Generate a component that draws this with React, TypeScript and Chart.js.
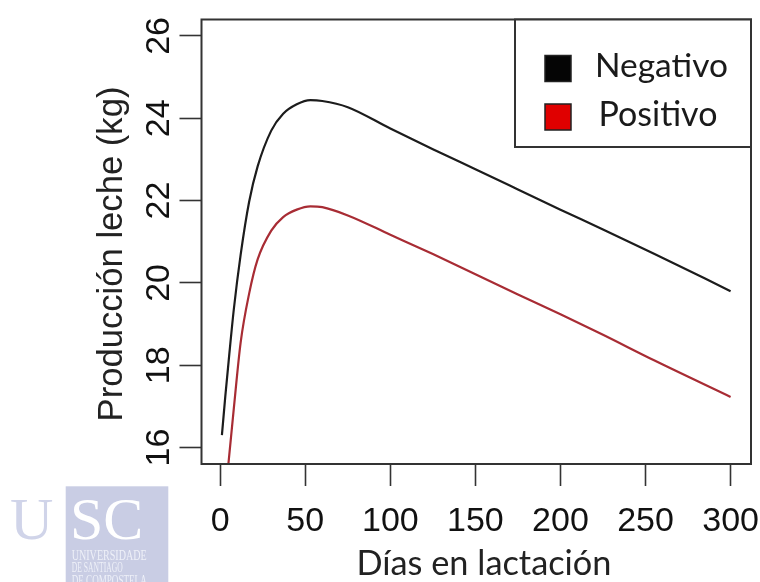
import React, { useEffect, useRef } from "react";
import { Chart, registerables } from "chart.js";

Chart.register(...registerables);

// ---- data ----
const days = [1, 3, 5, 8, 12, 17, 22, 30, 37, 45, 53, 60, 75, 100, 125, 150, 175, 200, 225, 255, 300];
const negativo = [16.3, 17.25, 18.12, 19.36, 20.68, 21.97, 22.83, 23.7, 24.11, 24.34, 24.44, 24.42, 24.27, 23.75, 23.25, 22.76, 22.27, 21.78, 21.3, 20.71, 19.8];
const positivo = [14.0, 14.85, 15.68, 16.95, 18.55, 19.74, 20.57, 21.27, 21.6, 21.78, 21.86, 21.84, 21.64, 21.17, 20.7, 20.21, 19.72, 19.24, 18.74, 18.12, 17.23];
const seriesLabels = ["Negativo", "Positivo"];
const seriesColors = ["#1c1c1c", "#a82c34"];
const legendSwatch = ["#050505", "#e00000"];
const xTickValues = [0, 50, 100, 150, 200, 250, 300];
const yTickValues = [16, 18, 20, 22, 24, 26];
const xTitle = "Días en lactación";
const yTitle = "Producción leche (kg)";
const logoBig = ["U", "SC"];
const logoSmall = ["UNIVERSIDADE", "DE SANTIAGO", "DE COMPOSTELA"];

function fitSize(ctx: CanvasRenderingContext2D, text: string, family: string, target: number) {
  ctx.font = `100px ${family}`;
  const w = ctx.measureText(text).width;
  return (100 * target) / w;
}

const decorPlugin = {
  id: "decor",
  afterDraw(chart: any) {
    const ctx: CanvasRenderingContext2D = chart.ctx;
    const { left, top, right, bottom } = chart.chartArea;
    const ys = chart.scales.y;
    ctx.save();

    // plot box
    ctx.strokeStyle = "#333";
    ctx.lineWidth = 2;
    ctx.strokeRect(left, top, right - left, bottom - top);

    // y tick labels (rotated, R style)
    ctx.fillStyle = "#111";
    ctx.font = "34px 'Liberation Sans', Arial, sans-serif";
    ctx.textAlign = "center";
    ctx.textBaseline = "alphabetic";
    ys.ticks.forEach((t: any) => {
      const py = ys.getPixelForValue(t.value);
      ctx.save();
      ctx.translate(168.5, py);
      ctx.rotate(-Math.PI / 2);
      ctx.fillText(String(t.value), 0, 0);
      ctx.restore();
    });

    // y title
    const yFam = "'Liberation Sans', Arial, sans-serif";
    const ySize = fitSize(ctx, yTitle, yFam, 335);
    ctx.font = `${ySize}px ${yFam}`;
    ctx.fillStyle = "#222";
    ctx.save();
    ctx.translate(122, 254);
    ctx.rotate(-Math.PI / 2);
    ctx.fillText(yTitle, 0, 0);
    ctx.restore();

    // x title
    const lato = "Lato, 'Open Sans', sans-serif";
    const xSize = fitSize(ctx, xTitle, lato, 255);
    ctx.font = `${xSize}px ${lato}`;
    ctx.fillStyle = "#222";
    ctx.textAlign = "center";
    ctx.fillText(xTitle, 484, 575);

    // legend
    const lx = 515, ly = top, lr = right, lb = 147;
    ctx.fillStyle = "#fff";
    ctx.fillRect(lx, ly, lr - lx, lb - ly);
    ctx.strokeStyle = "#333";
    ctx.lineWidth = 2;
    ctx.strokeRect(lx, ly, lr - lx, lb - ly);
    const rowsY = [68.5, 117];
    const textX = [595, 598.5];
    const textW = [133, 119];
    seriesLabels.forEach((lab, i) => {
      ctx.fillStyle = legendSwatch[i];
      ctx.fillRect(545, rowsY[i] - 13, 26, 26);
      ctx.strokeStyle = "#222";
      ctx.lineWidth = 1.5;
      ctx.strokeRect(545, rowsY[i] - 13, 26, 26);
      const s = fitSize(ctx, lab, lato, textW[i]);
      ctx.font = `${s}px ${lato}`;
      ctx.fillStyle = "#1a1a1a";
      ctx.textAlign = "left";
      ctx.textBaseline = "middle";
      ctx.fillText(lab, textX[i], rowsY[i] - 2);
    });

    // USC logo
    ctx.fillStyle = "#c9cde4";
    ctx.fillRect(65.7, 486.3, 102.6, 100);
    ctx.textBaseline = "alphabetic";
    ctx.textAlign = "left";
    const serif = "'Liberation Serif', 'Times New Roman', serif";
    ctx.font = `60px ${serif}`;
    ctx.fillStyle = "#d0d4e9";
    ctx.fillText(logoBig[0], 10, 539);
    ctx.fillStyle = "#ffffff";
    ctx.fillText(logoBig[1], 70, 539);
    const smallW = [75, 51, 75];
    const smallY = [559.5, 572, 584.5];
    ctx.fillStyle = "#eef0f8";
    logoSmall.forEach((t, i) => {
      ctx.font = `14px ${serif}`;
      const w = ctx.measureText(t).width;
      ctx.save();
      ctx.translate(71.7, smallY[i]);
      ctx.scale(smallW[i] / w, 1);
      ctx.fillText(t, 0, 0);
      ctx.restore();
    });

    ctx.restore();
  },
};

export default function App() {
  const ref = useRef<HTMLCanvasElement | null>(null);
  useEffect(() => {
    if (!ref.current) return;
    const mk = (vals: number[]) => days.map((d, i) => ({ x: d, y: vals[i] }));
    const chart = new Chart(ref.current, {
      type: "line",
      data: {
        datasets: [
          {
            label: seriesLabels[0],
            data: mk(negativo),
            borderColor: seriesColors[0],
            borderWidth: 2.2,
            pointRadius: 0,
            cubicInterpolationMode: "monotone",
            clip: 0,
          },
          {
            label: seriesLabels[1],
            data: mk(positivo),
            borderColor: seriesColors[1],
            borderWidth: 2.2,
            pointRadius: 0,
            cubicInterpolationMode: "monotone",
            clip: 0,
          },
        ],
      },
      options: {
        animation: false,
        responsive: false,
        devicePixelRatio: 1,
        layout: { padding: { left: 0, top: 19.5, right: 9, bottom: 0 } },
        plugins: { legend: { display: false }, tooltip: { enabled: false } },
        scales: {
          x: {
            type: "linear",
            min: -11,
            max: 312,
            afterBuildTicks: (s: any) => {
              s.ticks = xTickValues.map((v) => ({ value: v }));
            },
            afterFit: (s: any) => {
              s.height = 118;
              s.paddingLeft = 0;
              s.paddingRight = 0;
            },
            ticks: {
              color: "#111",
              font: { family: "'Liberation Sans', Arial, sans-serif", size: 34 },
              padding: 15,
              maxRotation: 0,
              autoSkip: false,
            },
            grid: {
              display: true,
              drawOnChartArea: false,
              drawTicks: true,
              tickLength: 22,
              tickColor: "#333",
              tickWidth: 1.6,
            },
            border: { display: false },
          },
          y: {
            type: "linear",
            min: 15.6,
            max: 26.4,
            afterBuildTicks: (s: any) => {
              s.ticks = yTickValues.map((v) => ({ value: v }));
            },
            afterFit: (s: any) => {
              s.width = 201.5;
              s.paddingTop = 0;
              s.paddingBottom = 0;
            },
            ticks: { display: false },
            grid: {
              display: true,
              drawOnChartArea: false,
              drawTicks: true,
              tickLength: 22,
              tickColor: "#333",
              tickWidth: 1.6,
            },
            border: { display: false },
          },
        },
      },
      plugins: [decorPlugin],
    } as any);
    return () => chart.destroy();
  }, []);
  return (
    <div style={{ position: "absolute", left: 0, top: 0, width: 760, height: 582, background: "#fff" }}>
      <canvas ref={ref} width={760} height={582} style={{ display: "block" }} />
    </div>
  );
}
